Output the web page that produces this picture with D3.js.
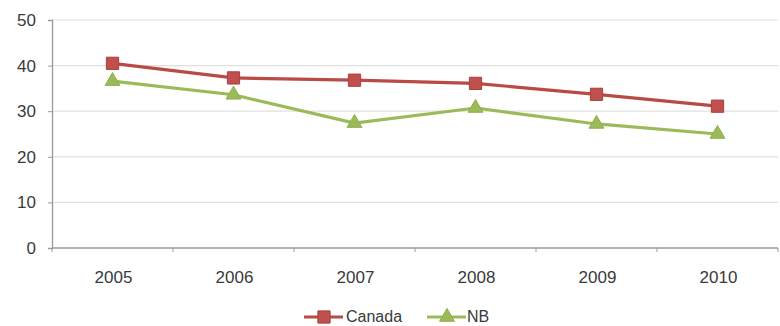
<!DOCTYPE html>
<html><head><meta charset="utf-8">
<script src="https://cdn.jsdelivr.net/npm/d3@7"></script>
<style>body{margin:0;background:#fff}svg{display:block}text{font-family:"Liberation Sans",Arial,sans-serif}</style>
</head><body><div id="c"></div>
<script>
const years = ["2005","2006","2007","2008","2009","2010"];
const canada = [40.5, 37.3, 36.8, 36.1, 33.7, 31.1];
const nb = [36.6, 33.6, 27.4, 30.7, 27.2, 25.0];
const yTicks = [0,10,20,30,40,50];
const seriesNames = ["Canada","NB"];

const W=780,H=326;
const svg=d3.select("#c").append("svg").attr("width",W).attr("height",H);
const x=d3.scaleBand().domain(years).range([52,778]);
const y=d3.scaleLinear().domain([0,50]).range([248,20]);

// gridlines
svg.append("g").selectAll("line").data(yTicks.filter(d=>d>0)).join("line")
 .attr("x1",52).attr("x2",778).attr("y1",d=>y(d)).attr("y2",d=>y(d))
 .attr("stroke","#e0e0e0").attr("stroke-width",1.2);

// y axis
const ya=svg.append("g").attr("transform","translate(52,0)")
 .call(d3.axisLeft(y).tickValues(yTicks).tickSize(4).tickPadding(12).tickFormat(d3.format("d")));
ya.select(".domain").attr("stroke","#9a9a9a").attr("stroke-width",1.3);
ya.selectAll(".tick line").attr("stroke","#9a9a9a");
ya.selectAll("text").attr("font-size",17).attr("fill","#3a3a3a").attr("font-family",null);

// x axis
const xa=svg.append("g").attr("transform","translate(0,248)");
xa.append("line").attr("x1",52).attr("x2",778).attr("stroke","#9a9a9a").attr("stroke-width",1.5);
const bounds=years.map(d=>x(d)).concat([x.range()[1]]);
xa.selectAll(".tk").data(bounds).join("line").attr("class","tk")
 .attr("x1",d=>d).attr("x2",d=>d).attr("y1",0).attr("y2",4).attr("stroke","#9a9a9a");
xa.selectAll(".lb").data(years).join("text").attr("class","lb")
 .attr("x",d=>x(d)+x.bandwidth()/2+1).attr("y",35).attr("text-anchor","middle")
 .attr("font-size",17).attr("fill","#3a3a3a").text(d=>d);

const cx=d=>x(d)+x.bandwidth()/2;
const line=d3.line().x((d,i)=>cx(years[i])).y(d=>y(d));
const cRed="#b94a45", cGreen="#9bbb59";
svg.append("path").datum(canada).attr("d",line).attr("fill","none").attr("stroke",cRed).attr("stroke-width",3.2);
svg.append("path").datum(nb).attr("d",line).attr("fill","none").attr("stroke",cGreen).attr("stroke-width",3.2);

const sq=d3.symbol().type(d3.symbolSquare).size(150);
const tri=d3.symbol().type(d3.symbolTriangle).size(95);
svg.append("g").selectAll("path").data(canada).join("path")
 .attr("transform",(d,i)=>`translate(${cx(years[i])},${y(d)})`).attr("d",sq)
 .attr("fill","#c0504d").attr("stroke","#a8403c").attr("stroke-width",1);
svg.append("g").selectAll("path").data(nb).join("path")
 .attr("transform",(d,i)=>`translate(${cx(years[i])},${y(d)})`).attr("d",tri)
 .attr("fill",cGreen).attr("stroke","#8fae4c").attr("stroke-width",1);

// legend
const lg=svg.append("g");
const ly=317;
lg.append("line").attr("x1",304).attr("x2",343).attr("y1",ly).attr("y2",ly).attr("stroke",cRed).attr("stroke-width",3.2);
lg.append("path").attr("transform",`translate(324,${ly})`).attr("d",sq).attr("fill","#c0504d").attr("stroke","#a8403c");
lg.append("text").attr("x",346).attr("y",322).attr("font-size",16).attr("fill","#3a3a3a").text(seriesNames[0]);
lg.append("line").attr("x1",427).attr("x2",466).attr("y1",ly).attr("y2",ly).attr("stroke",cGreen).attr("stroke-width",3.2);
lg.append("path").attr("transform",`translate(447,${ly})`).attr("d",tri).attr("fill",cGreen).attr("stroke","#8fae4c");
lg.append("text").attr("x",467).attr("y",322).attr("font-size",16).attr("fill","#3a3a3a").text(seriesNames[1]);
</script></body></html>
